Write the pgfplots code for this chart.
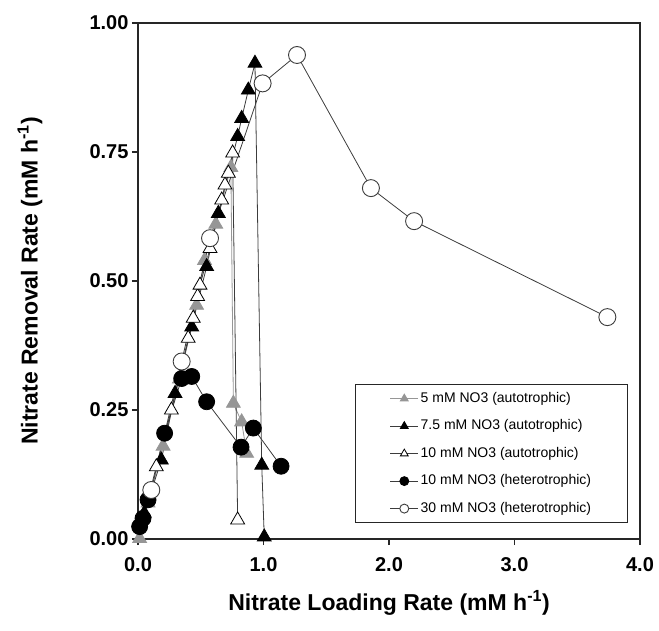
\documentclass[border=0pt]{standalone}
\usepackage{fontspec}
\setmainfont{Liberation Sans}
\usepackage{pgfplots}
\pgfplotsset{compat=1.18}
\definecolor{lgray}{RGB}{150,150,150}
\definecolor{lnc}{RGB}{60,60,60}
\begin{document}
\begin{tikzpicture}
\begin{axis}[
  at={(0,0)}, anchor=south west,
  scale only axis, width=502pt, height=516pt,
  xmin=0, xmax=4, ymin=0, ymax=1,
  xtick={0,1,2,3,4}, ytick={0,0.25,0.5,0.75,1},
  tick align=outside, tick pos=left, major tick length=6pt,
  axis line style={line width=1.6pt, black!85},
  every tick/.style={line width=1.4pt, black!85},
  x tick label style={font=\fontsize{20}{24}\selectfont\bfseries, yshift=-9pt,
    /pgf/number format/.cd, fixed, fixed zerofill, precision=1, assume math mode=true},
  y tick label style={font=\fontsize{20}{24}\selectfont\bfseries,
    /pgf/number format/.cd, fixed, fixed zerofill, precision=2, assume math mode=true},
  every axis x label/.style={at={(axis description cs:0.5,-0.124)}, anchor=center},
  every axis y label/.style={at={(axis description cs:-0.215,0.5)}, rotate=90, anchor=center},
  label style={font=\fontsize{23}{27}\selectfont\bfseries},
  xlabel={Nitrate Loading Rate (mM h\textsuperscript{-1})},
  ylabel={Nitrate Removal Rate (mM h\textsuperscript{-1})},
  legend style={at={(1,0)}, anchor=south east, xshift=-12pt, yshift=16pt,
    draw=black!85, line width=0.8pt, inner xsep=34.5pt, inner ysep=5.5pt,
    font=\fontsize{14}{16}\selectfont, cells={anchor=west},
    nodes={inner sep=2pt, text height=10pt, text depth=3pt}, row sep=10.5pt},
  legend image code/.code={\draw[mark repeat=2, mark phase=2, mark size=4.5pt]
    plot coordinates {(0pt,0pt) (14pt,0pt) (28pt,0pt)};},
]
\addplot[color=lgray, line width=0.8pt, mark=triangle*, mark size=8pt,
  mark options={fill=lgray, draw=lgray}] coordinates {
(0.013,0.001) (0.08,0.07) (0.20,0.18) (0.33,0.31) (0.467,0.453) (0.53,0.54)
(0.62,0.61) (0.74,0.72) (0.76,0.263) (0.826,0.227) (0.866,0.166)};
\addlegendentry{5 mM NO3 (autotrophic)}
\addplot[color=lnc, line width=0.8pt, mark=triangle*, mark size=8pt,
  mark options={fill=black, draw=black}] coordinates {
(0.05,0.05) (0.186,0.153) (0.295,0.282) (0.428,0.411) (0.547,0.528) (0.640,0.631)
(0.794,0.780) (0.826,0.815) (0.879,0.870) (0.932,0.922) (0.986,0.143) (1.006,0.004)};
\addlegendentry{7.5 mM NO3 (autotrophic)}
\addplot[color=lnc, line width=0.8pt, mark=triangle*, mark size=8pt,
  mark options={fill=white, draw=black, line width=0.8pt}] coordinates {
(0.146,0.140) (0.266,0.250) (0.400,0.389) (0.440,0.428) (0.475,0.470) (0.494,0.492)
(0.574,0.563) (0.667,0.657) (0.693,0.686) (0.720,0.709) (0.754,0.748) (0.794,0.037)};
\addlegendentry{10 mM NO3 (autotrophic)}
\addplot[color=lnc, line width=0.8pt, mark=*, mark size=8pt,
  mark options={fill=black, draw=black}] coordinates {
(0.013,0.024) (0.04,0.04) (0.08,0.076) (0.212,0.205) (0.348,0.311) (0.428,0.315)
(0.547,0.266) (0.821,0.178) (0.919,0.215) (1.14,0.141)};
\addlegendentry{10 mM NO3 (heterotrophic)}
\addplot[color=lnc, line width=0.8pt, mark=*, mark size=8.5pt,
  mark options={fill=white, draw=lnc, line width=0.9pt}] coordinates {
(0.106,0.095) (0.348,0.344) (0.574,0.583) (0.993,0.883) (1.267,0.938)
(1.856,0.680) (2.200,0.616) (3.74,0.430)};
\addlegendentry{30 mM NO3 (heterotrophic)}
\end{axis}
\pgfresetboundingbox
\path[use as bounding box] (-138pt,-91pt) rectangle (521pt,539pt);
\end{tikzpicture}
\end{document}
